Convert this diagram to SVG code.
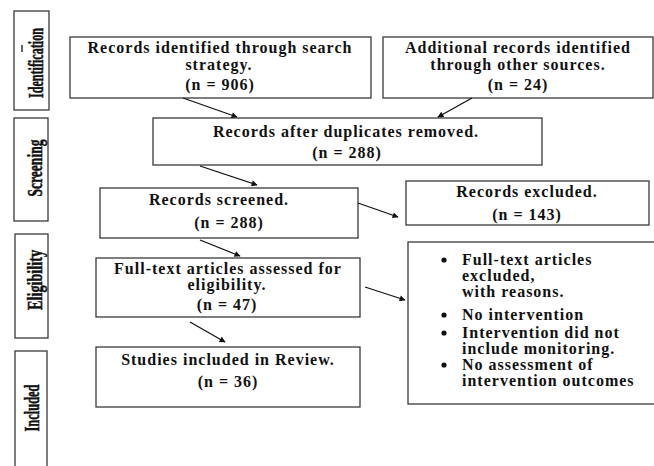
<svg xmlns="http://www.w3.org/2000/svg" width="654" height="466" viewBox="0 0 654 466">
<style>
.box{fill:#fff;stroke:#3a3a3a;stroke-width:1.3}
.t{font-family:"Liberation Serif","Times New Roman",serif;font-weight:bold;font-size:16px;letter-spacing:1px;fill:#111;text-anchor:middle}
.l{text-anchor:start}
.side{font-family:"Liberation Serif","Times New Roman",serif;font-weight:bold;font-size:21px;fill:#111;stroke:#111;stroke-width:0.5;text-anchor:middle}
.c{stroke:#111;stroke-width:1.3;fill:none;marker-end:url(#ah)}
</style>
<defs>
<marker id="ah" viewBox="0 0 10 10" refX="9" refY="5" markerWidth="8" markerHeight="6" orient="auto" markerUnits="userSpaceOnUse">
<path d="M0,0 L10,5 L0,10 z" fill="#111"/>
</marker>
</defs>
<rect width="654" height="466" fill="#fff"/>
<g id="phase-identification">
<rect class="box" x="14" y="11" width="35" height="99"/>
<text class="side" transform="translate(43,63) rotate(-90)" textLength="70" lengthAdjust="spacingAndGlyphs">Identification</text>
<line x1="22" y1="45" x2="22" y2="52" stroke="#111" stroke-width="1.3"/>
</g>
<g id="phase-screening">
<rect class="box" x="14" y="118" width="34" height="103"/>
<text class="side" transform="translate(42,168) rotate(-90)" textLength="57" lengthAdjust="spacingAndGlyphs">Screening</text>
</g>
<g id="phase-eligibility">
<rect class="box" x="15" y="234" width="33" height="104"/>
<text class="side" transform="translate(42,280) rotate(-90)" textLength="60" lengthAdjust="spacingAndGlyphs">Eligibility</text>
</g>
<g id="phase-included">
<rect class="box" x="15" y="351" width="32" height="125"/>
<text class="side" transform="translate(39,408) rotate(-90)" textLength="47" lengthAdjust="spacingAndGlyphs">Included</text>
</g>
<g id="n-identified">
<rect class="box" x="70" y="37" width="301" height="61"/>
<text class="t" x="220" y="53">Records identified through search</text>
<text class="t" x="219" y="70">strategy.</text>
<text class="t" x="220" y="90">(n = 906)</text>
</g>
<g id="n-additional">
<rect class="box" x="383" y="37" width="270" height="61"/>
<text class="t" x="518" y="53">Additional records identified</text>
<text class="t" x="518" y="70">through other sources.</text>
<text class="t" x="518" y="90">(n = 24)</text>
</g>
<g id="n-duplicates">
<rect class="box" x="153" y="118" width="389" height="47"/>
<text class="t" x="346" y="137">Records after duplicates removed.</text>
<text class="t" x="347" y="158">(n = 288)</text>
</g>
<g id="n-screened">
<rect class="box" x="100" y="188" width="258" height="50"/>
<text class="t" x="219" y="205">Records screened.</text>
<text class="t" x="229" y="228">(n = 288)</text>
</g>
<g id="n-excluded">
<rect class="box" x="406" y="181" width="243" height="44"/>
<text class="t" x="527" y="197">Records excluded.</text>
<text class="t" x="527" y="220">(n = 143)</text>
</g>
<g id="n-fulltext">
<rect class="box" x="96" y="258" width="264" height="59"/>
<text class="t" x="228" y="274">Full-text articles assessed for</text>
<text class="t" x="227" y="290">eligibility.</text>
<text class="t" x="227" y="310">(n = 47)</text>
</g>
<g id="n-reasons">
<rect class="box" x="408" y="242" width="260" height="162"/>
<g fill="#111">
<circle cx="444" cy="260" r="2.6"/>
<circle cx="444" cy="315" r="2.6"/>
<circle cx="444" cy="333" r="2.6"/>
<circle cx="444" cy="365" r="2.6"/>
</g>
<text class="t l" x="462" y="265">Full-text articles</text>
<text class="t l" x="462" y="281">excluded,</text>
<text class="t l" x="462" y="297">with reasons.</text>
<text class="t l" x="462" y="320">No intervention</text>
<text class="t l" x="462" y="338">Intervention did not</text>
<text class="t l" x="462" y="354">include monitoring.</text>
<text class="t l" x="462" y="370">No assessment of</text>
<text class="t l" x="462" y="386">intervention outcomes</text>
</g>
<g id="n-included">
<rect class="box" x="96" y="347" width="264" height="60"/>
<text class="t" x="228" y="365">Studies included in Review.</text>
<text class="t" x="228" y="387">(n = 36)</text>
</g>
<g id="connectors">
<line class="c" x1="183" y1="98" x2="237" y2="117"/>
<line class="c" x1="472" y1="98" x2="438" y2="117"/>
<line class="c" x1="200" y1="166" x2="257" y2="185"/>
<line class="c" x1="200" y1="240" x2="240" y2="256"/>
<line class="c" x1="358" y1="203" x2="398" y2="217"/>
<line class="c" x1="365" y1="287" x2="405" y2="300"/>
<line class="c" x1="190" y1="322" x2="225" y2="342"/>
</g>
</svg>
